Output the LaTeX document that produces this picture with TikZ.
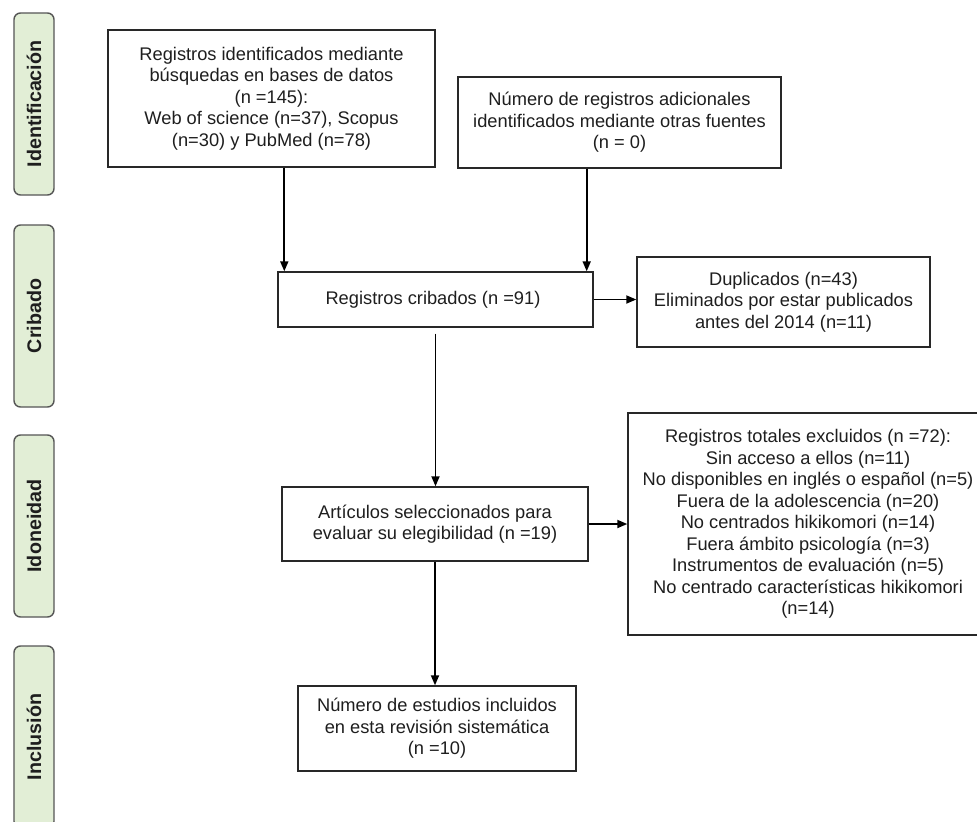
\documentclass[tikz,border=0pt]{standalone}
\usepackage{fontspec}
\setmainfont{Liberation Sans}
\usetikzlibrary{arrows.meta,positioning,calc}
\definecolor{phasegreen}{RGB}{226,238,214}
\definecolor{phaseline}{RGB}{85,85,85}
\definecolor{boxline}{RGB}{40,40,40}
\definecolor{inktext}{RGB}{30,30,30}

\begin{document}
\begin{tikzpicture}[
    box/.style={draw=boxline, line width=0.8pt, align=center, text=inktext, inner sep=2pt,
        font=\fontsize{10.4}{12.2}\selectfont},
    phase/.style={draw=phaseline, line width=0.8pt, fill=phasegreen, rounded corners=0.13cm,
        minimum width=3.64cm, minimum height=0.8cm, rotate=90, text=inktext,
        font=\bfseries\fontsize{11.2}{13}\selectfont},
    arr/.style={-{Triangle[length=0.2cm,width=0.16cm]}, line width=1pt},
]
    \useasboundingbox (0,0) rectangle (19.54,-16.42);

    % Phase labels on the left
    \node[phase] (fase-id) at (0.68,-2.08) {Identificación};
    \node[phase] (fase-crib) at (0.68,-6.32) {Cribado};
    \node[phase] (fase-idon) at (0.68,-10.52) {Idoneidad};
    \node[phase] (fase-incl) at (0.68,-14.74) {Inclusión};

    % Identification boxes
    \node[box, minimum width=6.54cm, minimum height=2.74cm] (busq) at (5.43,-1.97) {
        Registros identificados mediante\\
        búsquedas en bases de datos\\
        (n =145):\\
        Web of science (n=37), Scopus\\
        (n=30) y PubMed (n=78)
    };
    \node[box, minimum width=6.46cm, minimum height=1.82cm] (otras) at (12.39,-2.45) {
        Número de registros adicionales\\
        identificados mediante otras fuentes\\
        (n = 0)
    };

    % Screening
    \node[box, minimum width=6.3cm, minimum height=1.1cm] (crib) at (8.71,-5.99) {
        Registros cribados (n =91)
    };
    \node[box, minimum width=5.86cm, minimum height=1.8cm] (dupl) at (15.67,-6.04) {
        Duplicados (n=43)\\
        Eliminados por estar publicados\\
        antes del 2014 (n=11)
    };

    % Eligibility
    \node[box, minimum width=6.12cm, minimum height=1.48cm] (eleg) at (8.7,-10.48) {
        Artículos seleccionados para\\
        evaluar su elegibilidad (n =19)
    };
    \node[box, minimum width=7.2cm, minimum height=4.44cm] (excl) at (16.16,-10.48) {
        Registros totales excluidos (n =72):\\
        Sin acceso a ellos (n=11)\\
        No disponibles en inglés o español (n=5)\\
        Fuera de la adolescencia (n=20)\\
        No centrados hikikomori (n=14)\\
        Fuera ámbito psicología (n=3)\\
        Instrumentos de evaluación (n=5)\\
        No centrado características hikikomori\\
        (n=14)
    };

    % Inclusion
    \node[box, minimum width=5.56cm, minimum height=1.7cm] (incl) at (8.74,-14.57) {
        Número de estudios incluidos\\
        en esta revisión sistemática\\
        (n =10)
    };

    % Arrows
    \coordinate (crib-in1) at ($(crib.north west)+(0.14,0)$);
    \coordinate (crib-in2) at ($(crib.north east)+(-0.14,0)$);
    \draw[arr] (busq.south -| crib-in1) -- (crib-in1);
    \draw[arr] (otras.south -| crib-in2) -- (crib-in2);
    \draw[arr] (crib.east) -- (crib.east -| dupl.west);
    \draw[arr, shorten <=0.12cm] (crib.south) -- (crib.south |- eleg.north);
    \draw[arr] (eleg.east) -- (eleg.east -| excl.west);
    \draw[arr] (eleg.south) -- (eleg.south |- incl.north);
\end{tikzpicture}
\end{document}
